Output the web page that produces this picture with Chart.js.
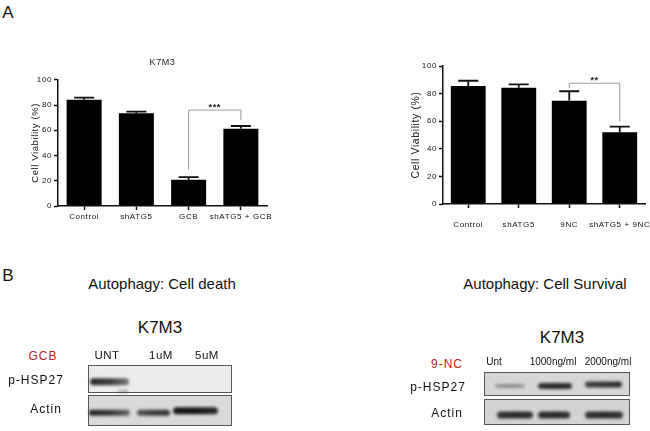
<!DOCTYPE html>
<html>
<head>
<meta charset="utf-8">
<script src="https://cdn.jsdelivr.net/npm/chart.js@4.4.1/dist/chart.umd.min.js"></script>
<style>
  html, body { margin: 0; padding: 0; background: #fff; }
  body { width: 650px; height: 431px; position: relative; overflow: hidden; font-family: 'Liberation Sans', Arial, sans-serif; color: #111; }
  .txt { position: absolute; white-space: nowrap; transform: translate(-50%, -50%); line-height: 1; }
  #wrapL { position: absolute; left: 0; top: 50px; width: 280px; height: 180px; }
  #wrapR { position: absolute; left: 370px; top: 40px; width: 280px; height: 190px; }
  #blotL { position: absolute; left: 80px; top: 360px; }
  #blotR { position: absolute; left: 475px; top: 365px; }
</style>
</head>
<body>
<div id="wrapL"><canvas id="chartL"></canvas></div>
<div id="wrapR"><canvas id="chartR"></canvas></div>
<canvas id="blotL" width="160" height="70"></canvas>
<canvas id="blotR" width="165" height="65"></canvas>
<div id="labels"></div>
<script>
// panel A data
const leftCategories = ['Control', 'shATG5', 'GCB', 'shATG5 + GCB'];
const leftMeans = [84.1, 73.5, 20.8, 61.3];
const leftErrors = [1.8, 1.3, 2.1, 2.1];
const rightCategories = ['Control', 'shATG5', '9NC', 'shATG5 + 9NC'];
const rightMeans = [85.5, 84.3, 74.9, 52];
const rightErrors = [3.8, 2.4, 6.8, 4];
const yTicks = [0, 20, 40, 60, 80, 100];
const leftBracket = { from: 2, to: 3, y: 76, leftEnd: 28.6, rightEnd: 68, label: '***' };
const rightBracket = { from: 2, to: 3, y: 87.5, leftEnd: 84, rightEnd: 59.6, label: '**' };

Chart.defaults.font.family = "'Liberation Sans', Arial, sans-serif";
Chart.defaults.color = '#111';

const spacing = {
    id: 'spacing',
    beforeDraw(chart) { chart.ctx.letterSpacing = '0.6px'; }
};

const errorBars = {
    id: 'errorBars',
    afterDatasetsDraw(chart) {
        const ctx = chart.ctx;
        const y = chart.scales.y;
        const ds = chart.data.datasets[0];
        ctx.save();
        ctx.strokeStyle = '#111';
        ctx.lineWidth = 1.8;
        chart.getDatasetMeta(0).data.forEach((bar, i) => {
            const top = y.getPixelForValue(ds.data[i] + ds.errors[i]);
            ctx.beginPath();
            ctx.moveTo(bar.x, bar.y);
            ctx.lineTo(bar.x, top);
            ctx.moveTo(bar.x - 10, top);
            ctx.lineTo(bar.x + 10, top);
            ctx.stroke();
        });
        ctx.restore();
    }
};

function bracketPlugin(b) {
    return {
        id: 'bracket',
        afterDatasetsDraw(chart) {
            const { ctx, scales: { x, y } } = chart;
            const x1 = x.getPixelForValue(b.from);
            const x2 = x.getPixelForValue(b.to);
            const yl = y.getPixelForValue(b.y);
            ctx.save();
            ctx.strokeStyle = '#9a9a9a';
            ctx.lineWidth = 1;
            ctx.beginPath();
            ctx.moveTo(x1, y.getPixelForValue(b.leftEnd));
            ctx.lineTo(x1, yl);
            ctx.lineTo(x2, yl);
            ctx.lineTo(x2, y.getPixelForValue(b.rightEnd));
            ctx.stroke();
            ctx.fillStyle = '#222';
            ctx.font = "bold 9px 'Liberation Sans', Arial";
            ctx.textAlign = 'center';
            ctx.textBaseline = 'bottom';
            ctx.fillText(b.label, (x1 + x2) / 2, yl + 2);
            ctx.restore();
        }
    };
}

function makeChart(id, cats, means, errs, bracket, cfg) {
    return new Chart(document.getElementById(id), {
        type: 'bar',
        data: {
            labels: cats,
            datasets: [{
                data: means,
                errors: errs,
                backgroundColor: '#000',
                borderWidth: 0,
                barPercentage: cfg.barPct,
                categoryPercentage: 1
            }]
        },
        options: {
            responsive: true,
            maintainAspectRatio: false,
            animation: false,
            layout: { padding: cfg.padding },
            plugins: {
                legend: { display: false },
                tooltip: { enabled: false },
                title: cfg.title
            },
            scales: {
                x: {
                    offset: true,
                    grid: { drawOnChartArea: false, offset: false, tickLength: 4, tickColor: '#111', tickWidth: 1.5 },
                    border: { color: '#111', width: 1.5 },
                    ticks: { font: { size: 8 }, padding: cfg.xPad, maxRotation: 0, autoSkip: false },
                    afterFit: s => { s.height = cfg.xHeight; s.paddingLeft = 0; s.paddingRight = 0; }
                },
                y: {
                    min: 0,
                    max: 100,
                    afterBuildTicks: s => { s.ticks = yTicks.map(v => ({ value: v })); },
                    grid: { drawOnChartArea: false, tickLength: 4, tickColor: '#111', tickWidth: 1.5 },
                    border: { color: '#111', width: 1.5 },
                    ticks: { font: { size: 8 }, padding: 2 },
                    title: { display: true, text: 'Cell Viability (%)', font: { size: cfg.yTitleSize }, padding: { top: cfg.yTitlePad, bottom: 0 } },
                    afterFit: s => { s.width = cfg.yWidth; }
                }
            }
        },
        plugins: [spacing, errorBars, bracketPlugin(bracket)]
    });
}

makeChart('chartL', leftCategories, leftMeans, leftErrors, leftBracket, {
    barPct: 0.67,
    padding: { left: 0, right: 13, top: 0, bottom: 0 },
    title: { display: true, text: 'K7M3', fullSize: false, font: { size: 9, weight: 'normal' }, color: '#222', padding: { top: 7, bottom: 12 } },
    xPad: 2, xHeight: 24, yWidth: 58, yTitleSize: 9.5, yTitlePad: 30
});

makeChart('chartR', rightCategories, rightMeans, rightErrors, rightBracket, {
    barPct: 0.69,
    padding: { left: 0, right: 5, top: 26, bottom: 0 },
    title: { display: false },
    xPad: 12, xHeight: 26, yWidth: 73, yTitleSize: 10.5, yTitlePad: 40
});

// panel B: western blot sketches (bands fade from a dark core)
function drawBlot(id, boxes, bands) {
    const ctx = document.getElementById(id).getContext('2d');
    boxes.forEach(b => { ctx.fillStyle = b.fill; ctx.fillRect(b.x, b.y, b.w, b.h); });
    ctx.save();
    ctx.filter = 'blur(1.6px)';
    bands.forEach(b => {
        const g = ctx.createLinearGradient(b.x, 0, b.x + b.w, 0);
        g.addColorStop(0, b.c[0]);
        g.addColorStop(0.5, b.c[1]);
        g.addColorStop(1, b.c[2]);
        ctx.fillStyle = g;
        ctx.beginPath();
        ctx.roundRect(b.x, b.y - b.h / 2, b.w, b.h, b.h / 2);
        ctx.fill();
    });
    ctx.restore();
    ctx.strokeStyle = '#555';
    ctx.lineWidth = 1;
    boxes.forEach(b => ctx.strokeRect(b.x + 0.5, b.y + 0.5, b.w - 1, b.h - 1));
}

drawBlot('blotL',
    [{ x: 8, y: 5, w: 144, h: 28, fill: '#ececec' }, { x: 8, y: 35, w: 144, h: 31, fill: '#dadada' }],
    [
        { x: 10, y: 21.7, w: 39, h: 7, c: ['#2a2a2a', '#3c3c3c', '#777'] },
        { x: 37, y: 31.5, w: 11, h: 2.5, c: ['#bbb', '#999', '#888'] },
        { x: 9, y: 52.7, w: 41, h: 6, c: ['#222', '#333', '#666'] },
        { x: 57, y: 52.7, w: 33, h: 6, c: ['#555', '#3a3a3a', '#333'] },
        { x: 93, y: 50.7, w: 45, h: 7, c: ['#1a1a1a', '#151515', '#2a2a2a'] }
    ]);

drawBlot('blotR',
    [{ x: 9, y: 7, w: 146, h: 24, fill: '#d6d6d6' }, { x: 9, y: 34, w: 146, h: 26, fill: '#d3d3d3' }],
    [
        { x: 20, y: 21, w: 30, h: 4, c: ['#999', '#888', '#999'] },
        { x: 63, y: 21, w: 34, h: 6, c: ['#333', '#262626', '#333'] },
        { x: 110, y: 19.5, w: 37, h: 6, c: ['#444', '#333', '#2a2a2a'] },
        { x: 22, y: 50, w: 36, h: 7, c: ['#333', '#2a2a2a', '#333'] },
        { x: 63, y: 50, w: 32, h: 7, c: ['#333', '#2a2a2a', '#333'] },
        { x: 110, y: 50, w: 38, h: 7, c: ['#333', '#2a2a2a', '#333'] }
    ]);

const texts = [
    ['A', 8, 12, 17, '#111', 0],
    ['B', 8, 275, 17, '#111', 0],
    ['Autophagy: Cell death', 162, 283, 15, '#111', 0],
    ['Autophagy: Cell Survival', 545, 283, 15, '#111', 0],
    ['K7M3', 160, 327, 17, '#111', 0],
    ['K7M3', 562, 337, 17, '#111', 0],
    ['GCB', 43, 356, 12, '#b5262b', 1],
    ['UNT', 107, 356, 11.5, '#111', 0.5],
    ['1uM', 161, 356, 11.5, '#111', 0.5],
    ['5uM', 207, 356, 11.5, '#111', 0.5],
    ['p-HSP27', 36, 380, 12, '#111', 1],
    ['Actin', 46, 409, 12, '#111', 1],
    ['9-NC', 447, 364, 12, '#b5262b', 1],
    ['Unt', 494, 362, 10, '#111', 0],
    ['1000ng/ml', 553, 362, 10, '#111', 0],
    ['2000ng/ml', 608, 362, 10, '#111', 0],
    ['p-HSP27', 438, 387, 12, '#111', 1],
    ['Actin', 447, 413, 12, '#111', 1]
];
const holder = document.getElementById('labels');
texts.forEach(([t, x, y, size, color, ls]) => {
    const d = document.createElement('div');
    d.className = 'txt';
    d.textContent = t;
    d.style.left = x + 'px';
    d.style.top = y + 'px';
    d.style.fontSize = size + 'px';
    d.style.color = color;
    d.style.letterSpacing = ls + 'px';
    holder.appendChild(d);
});
</script>
</body>
</html>
